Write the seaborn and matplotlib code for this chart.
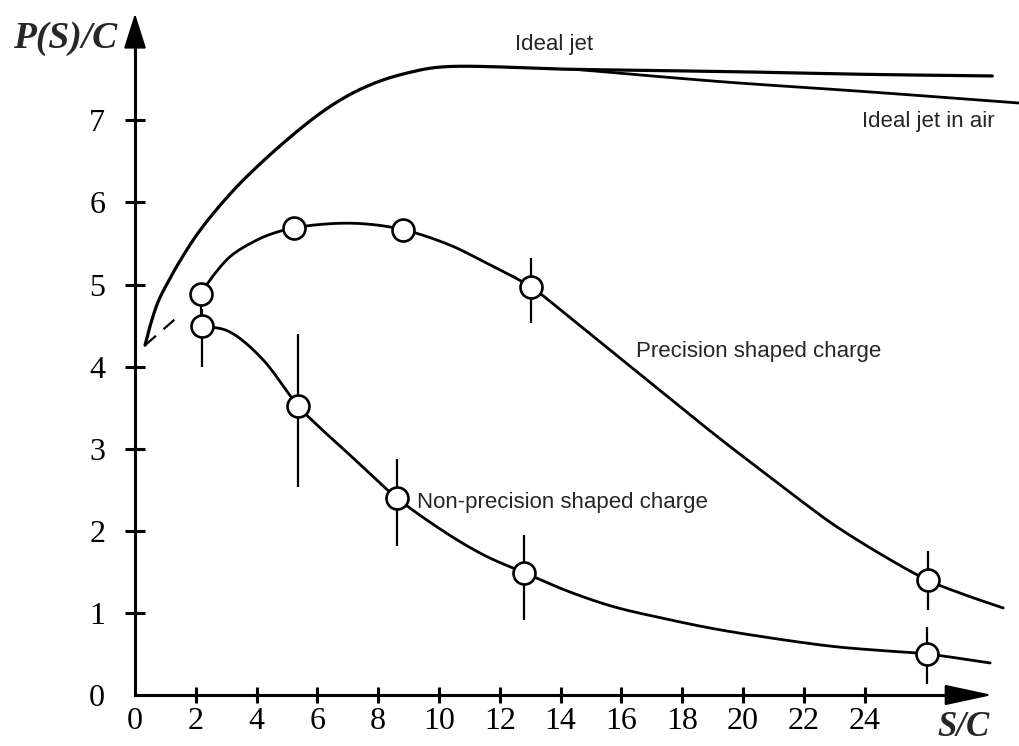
import matplotlib
matplotlib.use("Agg")
import matplotlib.pyplot as plt
import seaborn as sns
import numpy as np
import pandas as pd

# ---------------- data ----------------
ideal_x = [0.33, 0.5, 0.75, 1.1, 1.5, 2.1, 3.17, 4.44, 6.0, 7.0, 8.0, 9.0, 10.1, 14.5, 20.0, 24.0, 28.2]
ideal_y = [4.26, 4.50, 4.78, 5.04, 5.30, 5.64, 6.12, 6.58, 7.06, 7.30, 7.47, 7.58, 7.65, 7.62, 7.59, 7.56, 7.54]

air_x = [14.5, 19.3, 24.0, 29.1]
air_y = [7.62, 7.47, 7.35, 7.21]

prec_curve_x = [2.16, 2.6, 3.13, 4.0, 4.6, 5.24, 6.4, 7.5, 8.8, 10.36, 11.46, 13.02, 14.2, 15.3,
                16.4, 17.5, 18.6, 19.7, 20.8, 22.0, 23.0, 24.6, 26.07, 27.3, 28.56]
prec_curve_y = [4.89, 5.12, 5.34, 5.54, 5.63, 5.69, 5.74, 5.74, 5.67, 5.48, 5.28, 4.97, 4.63, 4.30,
                3.97, 3.64, 3.31, 2.99, 2.68, 2.34, 2.07, 1.70, 1.40, 1.22, 1.06]

nonp_curve_x = [2.21, 3.13, 4.22, 5.37, 6.1, 6.96, 7.8, 8.61, 10.25, 11.5, 12.8, 14.2, 15.7,
                17.3, 19.0, 21.0, 23.0, 24.6, 26.04, 28.13]
nonp_curve_y = [4.50, 4.42, 4.08, 3.52, 3.25, 2.96, 2.67, 2.40, 1.97, 1.70, 1.49, 1.27, 1.08,
                0.94, 0.81, 0.69, 0.59, 0.54, 0.50, 0.39]

dash_x = [0.33, 1.48]
dash_y = [4.26, 4.63]

prec_pts_x = [2.16, 5.24, 8.8, 13.02, 26.07]
prec_pts_y = [4.89, 5.69, 5.66, 4.97, 1.40]
prec_err_lo = [4.60, np.nan, np.nan, 4.53, 1.03]
prec_err_hi = [4.89, np.nan, np.nan, 5.32, 1.75]

nonp_pts_x = [2.21, 5.37, 8.61, 12.8, 26.04]
nonp_pts_y = [4.50, 3.52, 2.40, 1.49, 0.50]
nonp_err_lo = [4.00, 2.53, 1.81, 0.91, 0.14]
nonp_err_hi = [4.70, 4.40, 2.87, 1.95, 0.83]

x_ticks = [0, 2, 4, 6, 8, 10, 12, 14, 16, 18, 20, 22, 24]
y_ticks = [0, 1, 2, 3, 4, 5, 6, 7]


def smooth_path(xs, ys, n=12):
    """Centripetal Catmull-Rom rendering through the read points (drawing only)."""
    P = np.column_stack([xs, ys]).astype(float)
    P = np.vstack([2 * P[0] - P[1], P, 2 * P[-1] - P[-2]])
    out = []
    for i in range(1, len(P) - 2):
        p0, p1, p2, p3 = P[i - 1], P[i], P[i + 1], P[i + 2]
        def tj(ti, a, b):
            return ti + max(np.hypot(*(b - a)), 1e-6) ** 0.5
        t0 = 0.0
        t1 = tj(t0, p0, p1)
        t2 = tj(t1, p1, p2)
        t3 = tj(t2, p2, p3)
        t = np.linspace(t1, t2, n, endpoint=False)[:, None]
        A1 = (t1 - t) / (t1 - t0) * p0 + (t - t0) / (t1 - t0) * p1
        A2 = (t2 - t) / (t2 - t1) * p1 + (t - t1) / (t2 - t1) * p2
        A3 = (t3 - t) / (t3 - t2) * p2 + (t - t2) / (t3 - t2) * p3
        B1 = (t2 - t) / (t2 - t0) * A1 + (t - t0) / (t2 - t0) * A2
        B2 = (t3 - t) / (t3 - t1) * A2 + (t - t1) / (t3 - t1) * A3
        C = (t2 - t) / (t2 - t1) * B1 + (t - t1) / (t2 - t1) * B2
        out.append(C)
    out.append(P[-2][None, :])
    C = np.vstack(out)
    return C[:, 0], C[:, 1]


# ---------------- figure ----------------
sns.set_style("white")
plt.rcParams["font.family"] = ["Liberation Sans", "DejaVu Sans"]

W, H = 1019, 746
fig = plt.figure(figsize=(W / 100, H / 100), dpi=100)
ax = fig.add_axes([0, 0, 1, 1])

x0_px, x_scale = 135, 30.4
y0_px, y_scale = 695, 82.1
ax.set_xlim(-x0_px / x_scale, (W - x0_px) / x_scale)
ax.set_ylim(-(H - y0_px) / y_scale, y0_px / y_scale)

lw_curve = 2.0
lw_thin = 1.6

# curves
for cx, cy, lw in [(ideal_x, ideal_y, 2.3), (air_x, air_y, lw_curve),
                   (prec_curve_x, prec_curve_y, lw_curve), (nonp_curve_x, nonp_curve_y, lw_curve)]:
    sx, sy = smooth_path(cx, cy)
    sns.lineplot(x=sx, y=sy, ax=ax, color="black", lw=lw, sort=False, estimator=None)
ax.plot(dash_x, dash_y, color="black", lw=lw_thin, linestyle=(0, (6.5, 4.5)))

# error bars
ax.vlines(prec_pts_x, prec_err_lo, prec_err_hi, color="black", lw=lw_thin, zorder=3)
ax.vlines(nonp_pts_x, nonp_err_lo, nonp_err_hi, color="black", lw=lw_thin, zorder=3)

# markers
pts = pd.DataFrame({"x": prec_pts_x + nonp_pts_x, "y": prec_pts_y + nonp_pts_y})
sns.scatterplot(data=pts, x="x", y="y", ax=ax, s=250, facecolor="white",
                edgecolor="black", linewidth=1.9, zorder=5)

# axes
for s in ["top", "right"]:
    ax.spines[s].set_visible(False)
ax.spines["left"].set_position(("data", 0))
ax.spines["bottom"].set_position(("data", 0))
ax.spines["left"].set_bounds(0, 8.0)
ax.spines["bottom"].set_bounds(0, 27.4)
for s in ["left", "bottom"]:
    ax.spines[s].set_linewidth(2.2)
    ax.spines[s].set_color("black")
ax.annotate("", xy=(0, 8.30), xytext=(0, 7.8),
            arrowprops=dict(arrowstyle="-|>,head_length=2.2,head_width=0.7", color="black", lw=1.5,
                            shrinkA=0, shrinkB=0))
ax.annotate("", xy=(28.2, 0), xytext=(26.8, 0),
            arrowprops=dict(arrowstyle="-|>,head_length=3.0,head_width=0.65", color="black", lw=1.5,
                            shrinkA=0, shrinkB=0))

ax.set_xticks(x_ticks)
ax.set_xticklabels([str(v) for v in x_ticks])
ax.set_yticks(y_ticks)
ax.set_yticklabels([str(v) for v in y_ticks])
ax.tick_params(axis="x", bottom=True, direction="inout", length=11, width=2.2, pad=3,
               labelsize=23, colors="black")
ax.tick_params(axis="y", left=True, direction="inout", length=15, width=2.2, pad=14,
               labelsize=23, colors="black")
ax.xaxis.get_major_ticks()[0].tick1line.set_visible(False)
ax.yaxis.get_major_ticks()[0].tick1line.set_visible(False)
for lab in ax.get_xticklabels() + ax.get_yticklabels():
    lab.set_fontfamily("Liberation Serif")
ax.set_xlabel("")
ax.set_ylabel("")
ax.grid(False)

# axis titles
fig.text(65 / W, 1 - 38 / H, "P(S)/C", ha="center", va="center", fontsize=27,
         fontfamily="Liberation Serif", fontstyle="italic", fontweight="bold")
fig.text(963 / W, 1 - 727 / H, "S/C", ha="center", va="center", fontsize=25,
         fontfamily="Liberation Serif", fontstyle="italic", fontweight="bold")

# annotations
ax.text(13.8, 7.92, "Ideal jet", ha="center", va="center", fontsize=16)
ax.text(26.1, 6.98, "Ideal jet in air", ha="center", va="center", fontsize=16)
ax.text(16.48, 4.18, "Precision shaped charge", ha="left", va="center", fontsize=16)
ax.text(9.28, 2.34, "Non-precision shaped charge", ha="left", va="center", fontsize=16)

fig.savefig("out.png", dpi=100, facecolor="white")
